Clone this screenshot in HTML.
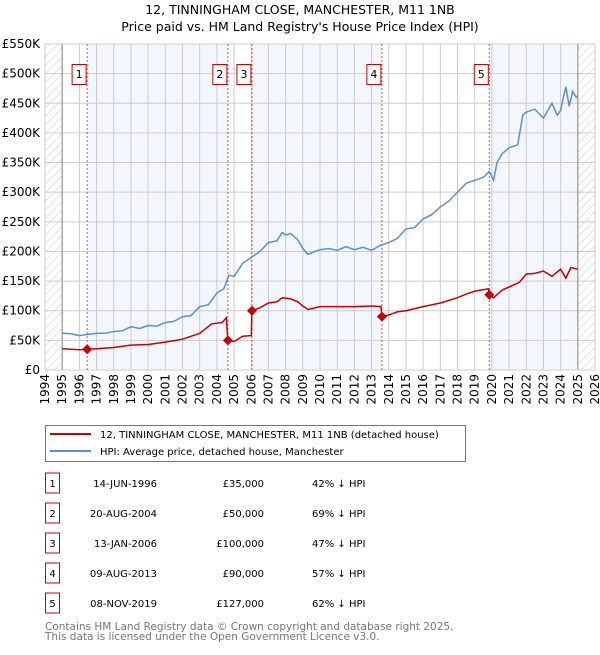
<!DOCTYPE html>
<html><head><meta charset="utf-8"><style>
body{margin:0;background:#fff;font-family:"Liberation Sans","DejaVu Sans",sans-serif;}
svg text{font-family:"DejaVu Sans","Liberation Sans",sans-serif;}
</style></head><body>
<svg id="c" width="600" height="650" xmlns="http://www.w3.org/2000/svg">
<defs><pattern id="hatch" width="6" height="6" patternUnits="userSpaceOnUse" patternTransform="rotate(45)"><line x1="0" y1="0" x2="0" y2="6" stroke="#ccc" stroke-width="1"/></pattern></defs>
<text x="300" y="14" font-size="12.5" text-anchor="middle">12, TINNINGHAM CLOSE, MANCHESTER, M11 1NB</text>
<text x="300" y="31" font-size="12.5" text-anchor="middle">Price paid vs. HM Land Registry's House Price Index (HPI)</text>
<g id="plot"></g>
<g>
<rect x="45.5" y="425.5" width="420" height="36" fill="#fff" stroke="#777"/>
<line x1="50" y1="434" x2="91" y2="434" stroke="#cc0000" stroke-width="2"/>
<text x="100" y="438" font-size="10">12, TINNINGHAM CLOSE, MANCHESTER, M11 1NB (detached house)</text>
<line x1="50" y1="451" x2="91" y2="451" stroke="#5b8fd4" stroke-width="2"/>
<text x="100" y="455" font-size="10">HPI: Average price, detached house, Manchester</text>
</g>
<g id="table" font-size="10"></g>
<text x="45" y="630" font-size="10.5" fill="#777">Contains HM Land Registry data © Crown copyright and database right 2025.</text>
<text x="45" y="640" font-size="10.5" fill="#777">This data is licensed under the Open Government Licence v3.0.</text>
</svg>
<script>
const hpiT=[1995,1995.5,1996,1996.5,1997,1997.5,1998,1998.5,1999,1999.5,2000,2000.5,2001,2001.5,2002,2002.5,2003,2003.5,2004,2004.4,2004.7,2005,2005.5,2006,2006.5,2007,2007.5,2007.8,2008,2008.3,2008.7,2009,2009.3,2009.7,2010,2010.5,2011,2011.5,2012,2012.5,2013,2013.5,2014,2014.5,2015,2015.5,2016,2016.5,2017,2017.5,2018,2018.5,2019,2019.5,2019.85,2020.1,2020.3,2020.6,2021,2021.5,2021.8,2022,2022.5,2023,2023.5,2023.8,2024,2024.3,2024.5,2024.7,2024.9,2025];
const hpiV=[62,61,58,60,62,62,65,66,73,70,75,74,80,82,90,92,107,110,130,137,160,158,180,190,200,215,218,232,228,230,220,205,195,200,203,205,202,208,203,207,202,210,215,222,238,240,255,262,275,285,300,315,320,325,335,320,350,365,375,380,430,435,440,425,450,430,438,478,445,470,460,463];
const ppT=[1995,1996,1996.45,1997,1998,1999,2000,2001,2002,2003,2003.7,2004.3,2004.55,2004.64,2005,2005.5,2006,2006.04,2006.5,2007,2007.5,2007.8,2008.3,2008.7,2009,2009.3,2010,2011,2012,2013,2013.55,2013.6,2014,2014.5,2015,2016,2017,2018,2018.5,2019,2019.8,2019.85,2020.1,2020.6,2021,2021.6,2022,2022.5,2023,2023.5,2024,2024.3,2024.6,2025];
const ppV=[36,34,35,36,38,42,43,47,52,62,78,80,88,50,48,57,58,100,105,113,115,122,120,115,108,102,107,107,107,108,107,90,93,98,100,107,113,122,128,133,137,127,122,135,140,148,162,163,167,158,170,155,173,170];
const saleT=[1996.45,2004.64,2006.04,2013.6,2019.85];
const saleV=[35,50,100,90,127];
const saleLabels=["1","2","3","4","5"];
const saleDates=["14-JUN-1996","20-AUG-2004","13-JAN-2006","09-AUG-2013","08-NOV-2019"];
const salePrices=["£35,000","£50,000","£100,000","£90,000","£127,000"];
const saleDiffs=["42% ↓ HPI","69% ↓ HPI","47% ↓ HPI","57% ↓ HPI","62% ↓ HPI"];
const yTicks=[0,50,100,150,200,250,300,350,400,450,500,550];
const yTickLabels=["£0","£50K","£100K","£150K","£200K","£250K","£300K","£350K","£400K","£450K","£500K","£550K"];
const xTicks=[1994,1995,1996,1997,1998,1999,2000,2001,2002,2003,2004,2005,2006,2007,2008,2009,2010,2011,2012,2013,2014,2015,2016,2017,2018,2019,2020,2021,2022,2023,2024,2025,2026];

const X0=45,X1=595,Y0=370,Y1=44;
const x=t=>X0+(t-1994)/(2026-1994)*(X1-X0);
const y=v=>Y0-v/550*(Y0-Y1);
const NS="http://www.w3.org/2000/svg";
const plot=document.getElementById('plot');
function mk(tag,attrs,parent){const e=document.createElementNS(NS,tag);for(const k in attrs)e.setAttribute(k,attrs[k]);(parent||plot).appendChild(e);return e;}
// background
let bg=mk('rect',{x:X0,y:Y1,width:X1-X0,height:Y0-Y1,fill:'#fff'});


// shaded bands
const bands=[[saleT[0],saleT[1]],[saleT[2],saleT[3]],[saleT[4],2025]];
bands.forEach(b=>{const r=mk('rect',{x:x(b[0]),y:Y1,width:x(b[1])-x(b[0]),height:Y0-Y1,fill:'#eef3fc',opacity:0.7});

});
// hatched
[[1994,1995],[2025,2026]].forEach(b=>{const r=mk('rect',{x:x(b[0]),y:Y1,width:x(b[1])-x(b[0]),height:Y0-Y1,fill:'url(#hatch)'});

});
// grid
yTicks.forEach((v,i)=>{mk('line',{x1:X0,x2:X1,y1:y(v),y2:y(v),stroke:'#ccc','stroke-width':1});
const t=mk('text',{x:40,y:y(v)+4,'font-size':12,'text-anchor':'end'});t.textContent=yTickLabels[i];

});
xTicks.forEach(v=>{mk('line',{x1:x(v),x2:x(v),y1:Y1,y2:Y0,stroke:'#ccc','stroke-width':1});
const t=mk('text',{transform:`translate(${x(v)+4},${Y0+4}) rotate(-90)`,'font-size':12,'text-anchor':'end'});t.textContent=v;

});
mk('line',{x1:x(1995),x2:x(1995),y1:Y1,y2:Y0,stroke:'#999','stroke-width':1.2});
mk('line',{x1:x(2025),x2:x(2025),y1:Y1,y2:Y0,stroke:'#999','stroke-width':1.2});
mk('rect',{x:X0,y:Y1,width:X1-X0,height:Y0-Y1,fill:'none',stroke:'#ccc'});
// sale lines
saleT.forEach((t,i)=>{const l=mk('line',{x1:x(t),x2:x(t),y1:Y1,y2:Y0,stroke:'#e05050','stroke-width':1,'stroke-dasharray':'2,2'});


const bx=x(t)-15;
const r=mk('rect',{x:bx,y:64.5,width:14,height:20,fill:'#fff',stroke:'#cc0000'});


const tx=mk('text',{x:bx+7,y:78,'font-size':11,'text-anchor':'middle'});tx.textContent=saleLabels[i];});
// lines
const path=(T,V)=>T.map((t,i)=>(i?'L':'M')+x(t).toFixed(1)+','+y(V[i]).toFixed(1)).join('');
const hp=mk('path',{d:path(hpiT,hpiV),fill:'none',stroke:'#5b8fd4','stroke-width':1.5});


const pp=mk('path',{d:path(ppT,ppV),fill:'none',stroke:'#cc0000','stroke-width':1.5});


saleT.forEach((t,i)=>{const d=mk('path',{d:`M${x(t)},${y(saleV[i])-5}l5,5l-5,5l-5,-5z`,fill:'#cc0000'});

});
// table
const tb=document.getElementById('table');
saleLabels.forEach((s,i)=>{const cy=483+i*30;
const r=mk('rect',{x:45.5,y:cy-10,width:14,height:20,fill:'#fff',stroke:'#cc0000'},tb);


const a=mk('text',{x:52.5,y:cy+4,'text-anchor':'middle'},tb);a.textContent=s;
const b=mk('text',{x:157,y:cy+4,'text-anchor':'end'},tb);b.textContent=saleDates[i];


const c=mk('text',{x:264,y:cy+4,'text-anchor':'end'},tb);c.textContent=salePrices[i];


const d=mk('text',{x:312,y:cy+4},tb);d.textContent=saleDiffs[i];

});
</script>
</body></html>
